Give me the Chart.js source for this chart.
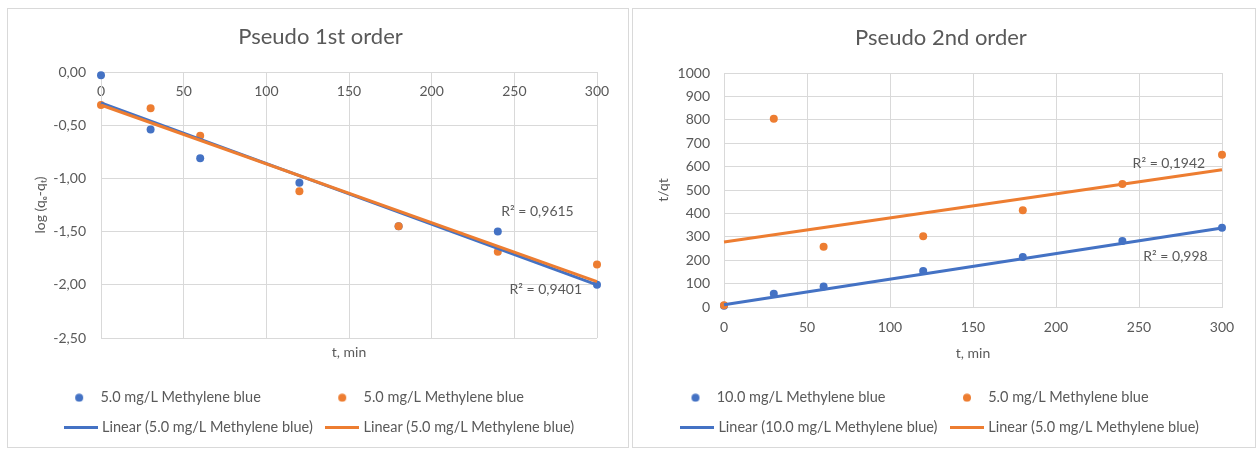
<!DOCTYPE html>
<html>
<head>
<meta charset="utf-8">
<script src="https://cdn.jsdelivr.net/npm/chart.js@4.4.1/dist/chart.umd.min.js"></script>
<style>
  html, body { margin: 0; padding: 0; background: #fff; }
  .panel { position: absolute; top: 8px; border: 1px solid #d9d9d9; }
  #p1 { left: 7px; width: 620px; height: 438px; }
  #p2 { left: 632px; width: 622px; height: 438px; }
  canvas { display: block; }
</style>
</head>
<body>
<div class="panel" id="p1"><canvas id="c1" width="620" height="438"></canvas></div>
<div class="panel" id="p2"><canvas id="c2" width="622" height="438"></canvas></div>
<script>
// sampling times, min
const tMin = [0, 30, 60, 120, 180, 240, 300];

// pseudo 1st order: log(qe - qt)
const firstBlue = [-0.03, -0.54, -0.81, -1.04, -1.45, -1.50, -2.00];
const firstOrange = [-0.31, -0.34, -0.60, -1.12, -1.45, -1.69, -1.81];

// pseudo 2nd order: t/qt
const secondBlue = [5, 57, 88, 154, 214, 282, 339];
const secondOrange = [7, 805, 258, 302, 413, 526, 651];

// trend lines (ends)
const fitT = [0, 300];
const firstBlueFit = [-0.29, -2.00];
const firstOrangeFit = [-0.31, -1.97];
const secondBlueFit = [10, 338];
const secondOrangeFit = [278, 587];

const firstR2 = ['R² = 0,9615', 'R² = 0,9401'];
const secondR2 = ['R² = 0,1942', 'R² = 0,998'];

const BLUE = '#4472C4';
const ORANGE = '#ED7D31';
const TXT = '#595959';
const GRID = '#d9d9d9';
const LEGEND_FONT = 14.5;

Chart.defaults.font.family = 'Lato';
Chart.defaults.font.size = 14;
Chart.defaults.color = TXT;

function pts(xs, ys) {
    return xs.map((x, i) => ({ x: x, y: ys[i] }));
}

// legend symbols: 34px wide, a bit wider than the 28px legend box
function marker(color, kind) {
    const c = document.createElement('canvas');
    c.width = 34;
    const g = c.getContext('2d');
    if (kind === 'dot') {
        c.height = 9;
        g.fillStyle = color;
        g.beginPath();
        g.arc(17, 4.5, 4, 0, Math.PI * 2);
        g.fill();
    } else {
        c.height = 3;
        g.fillStyle = color;
        g.fillRect(0, 0, 34, 3);
    }
    return c;
}

const markers = [marker(BLUE, 'dot'), marker(ORANGE, 'dot'), marker(BLUE, 'line'), marker(ORANGE, 'line')];

const measure = document.createElement('canvas').getContext('2d');
measure.font = LEGEND_FONT + 'px Lato';

function padTo(text, target) {
    let s = text;
    let n = 0;
    while (measure.measureText(s).width < target - 1.5 && n < 200) {
        s += ' ';
        n++;
    }
    return s;
}

// Excel style legend: two columns, dots above lines
function legendLabels(chart) {
    const items = Chart.defaults.plugins.legend.labels.generateLabels(chart)
        .sort((a, b) => a.datasetIndex - b.datasetIndex);
    for (let i = 0; i < 2; i++) {
        items[i].text = padTo(items[i].text, measure.measureText(items[i + 2].text).width);
    }
    items.forEach(it => { it.pointStyle = markers[it.datasetIndex]; });
    return items;
}

const r2Plugin = {
    id: 'r2',
    afterDatasetsDraw(chart, args, opts) {
        const { ctx, scales } = chart;
        ctx.save();
        ctx.font = '14px Lato';
        ctx.fillStyle = TXT;
        ctx.textAlign = 'center';
        ctx.textBaseline = 'middle';
        opts.items.forEach(it => {
            ctx.fillText(it.text, scales.x.getPixelForValue(it.x), scales.y.getPixelForValue(it.y));
        });
        ctx.restore();
    }
};

function scatterSet(label, data, color, order) {
    return {
        label: label, data: data, backgroundColor: color, borderColor: color,
        pointRadius: 4, pointBorderWidth: 0, showLine: false, order: order,
        clip: false, xAxisID: 'x', yAxisID: 'y'
    };
}

function lineSet(label, data, color, order) {
    return {
        label: label, data: data, borderColor: color, backgroundColor: color,
        borderWidth: 3, pointRadius: 0, showLine: true, order: order,
        clip: false, xAxisID: 'x', yAxisID: 'y'
    };
}

function commonPlugins(title, titlePad, r2Items) {
    return {
        title: {
            display: true, text: title, color: TXT,
            font: { size: 22, weight: 'normal' }, padding: titlePad
        },
        legend: {
            position: 'bottom',
            labels: {
                usePointStyle: true, pointStyleWidth: 28, padding: 30 - LEGEND_FONT,
                color: TXT, font: { size: LEGEND_FONT }, generateLabels: legendLabels
            }
        },
        tooltip: { enabled: false },
        r2: { items: r2Items }
    };
}

const spacer = w => ({
    type: 'linear', position: 'right', display: true,
    ticks: { display: false }, grid: { display: false, drawTicks: false },
    border: { display: false }, afterFit: s => { s.width = w; }
});

new Chart(document.getElementById('c1'), {
    type: 'scatter',
    data: {
        datasets: [
            scatterSet('5.0 mg/L Methylene blue', pts(tMin, firstBlue), BLUE, 4),
            scatterSet('5.0 mg/L Methylene blue', pts(tMin, firstOrange), ORANGE, 3),
            lineSet('Linear (5.0 mg/L Methylene blue)', pts(fitT, firstBlueFit), BLUE, 2),
            lineSet('Linear (5.0 mg/L Methylene blue)', pts(fitT, firstOrangeFit), ORANGE, 1)
        ]
    },
    options: {
        responsive: false,
        animation: false,
        events: [],
        layout: { padding: { left: 5, right: 0, top: 0, bottom: 2 } },
        scales: {
            x: {
                type: 'linear', position: { y: 0 }, min: 0, max: 300,
                ticks: { stepSize: 50, padding: 11, callback: v => String(v) },
                grid: { color: GRID, drawTicks: false },
                border: { color: GRID }
            },
            y: {
                type: 'linear', position: 'left', min: -2.5, max: 0,
                ticks: { stepSize: 0.5, padding: 15, callback: v => v.toFixed(2).replace('.', ',') },
                grid: { color: GRID, drawTicks: false },
                border: { color: GRID },
                title: { display: true, text: 'log (qₑ-qₜ)', padding: { top: 19, bottom: 0 } },
                afterFit: s => { s.width = 88; }
            },
            xt: {
                type: 'linear', position: 'bottom', min: 0, max: 300,
                ticks: { display: false }, grid: { display: false, drawTicks: false },
                border: { display: false },
                title: { display: true, text: 't, min', padding: { top: 0, bottom: 14.5 } },
                afterFit: s => { s.height = 37; }
            },
            yr: spacer(31)
        },
        plugins: commonPlugins('Pseudo 1st order', { top: 15, bottom: 21.6 }, [
            { text: firstR2[0], x: 264, y: -1.31 },
            { text: firstR2[1], x: 269, y: -2.04 }
        ])
    },
    plugins: [r2Plugin]
});

new Chart(document.getElementById('c2'), {
    type: 'scatter',
    data: {
        datasets: [
            scatterSet('10.0 mg/L Methylene blue', pts(tMin, secondBlue), BLUE, 4),
            scatterSet('5.0 mg/L Methylene blue', pts(tMin, secondOrange), ORANGE, 3),
            lineSet('Linear (10.0 mg/L Methylene blue)', pts(fitT, secondBlueFit), BLUE, 2),
            lineSet('Linear (5.0 mg/L Methylene blue)', pts(fitT, secondOrangeFit), ORANGE, 1)
        ]
    },
    options: {
        responsive: false,
        animation: false,
        events: [],
        layout: { padding: { left: 0, right: 6, top: 0, bottom: 2 } },
        scales: {
            x: {
                type: 'linear', position: 'bottom', min: 0, max: 300,
                ticks: { stepSize: 50, padding: 12, callback: v => String(v) },
                grid: { color: GRID, drawTicks: false },
                border: { color: GRID },
                title: { display: true, text: 't, min', padding: { top: 0, bottom: 13.5 } },
                afterFit: s => { s.height = 68; }
            },
            y: {
                type: 'linear', position: 'left', min: 0, max: 1000,
                ticks: { stepSize: 100, padding: 14, callback: v => String(v) },
                grid: { color: GRID, drawTicks: false },
                border: { color: GRID },
                title: { display: true, text: 't/qt', padding: { top: 22, bottom: 0 } },
                afterFit: s => { s.width = 91; }
            },
            yr: spacer(27)
        },
        plugins: commonPlugins('Pseudo 2nd order', { top: 16, bottom: 21.6 }, [
            { text: secondR2[0], x: 268, y: 614 },
            { text: secondR2[1], x: 272, y: 217 }
        ])
    },
    plugins: [r2Plugin]
});
</script>
</body>
</html>
